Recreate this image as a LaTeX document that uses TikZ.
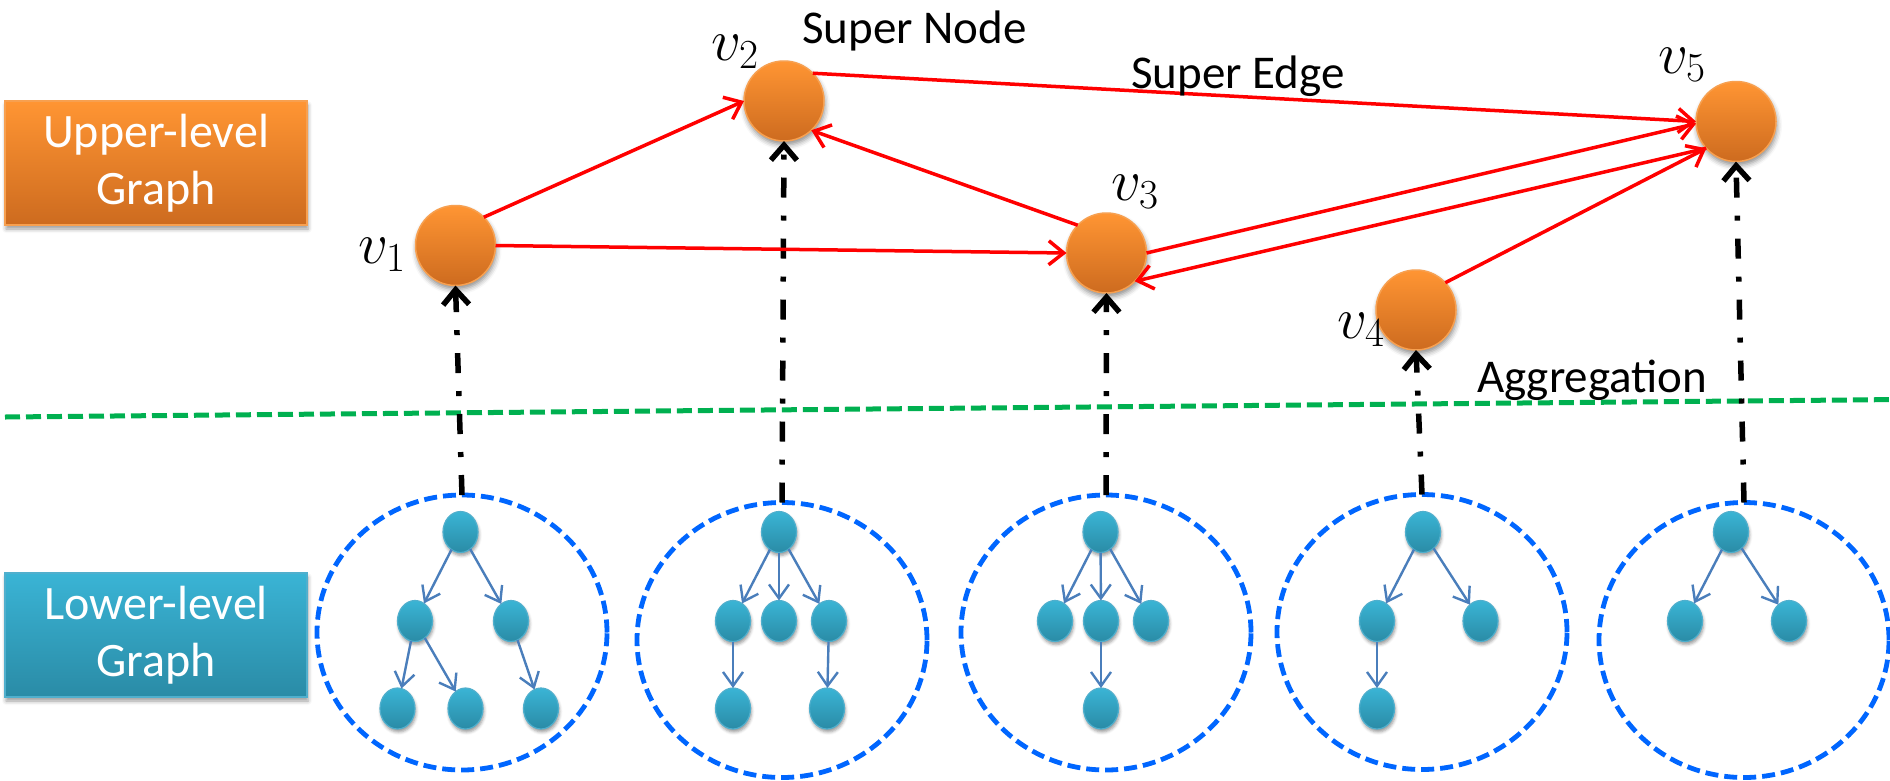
\RequirePackage{fix-cm}
\documentclass[tikz,border=0pt]{standalone}
\usepackage[no-math]{fontspec}
\setmainfont{Carlito}
\usetikzlibrary{arrows.meta,shapes.geometric,shadows.blur}
\definecolor{orangeTop}{RGB}{255,149,51}
\definecolor{orangeBot}{RGB}{205,107,31}
\definecolor{orangeBorder}{RGB}{247,160,80}
\definecolor{tealTop}{RGB}{58,180,213}
\definecolor{tealBot}{RGB}{42,139,166}
\definecolor{tealBorder}{RGB}{80,175,205}
\definecolor{edgeBlue}{RGB}{74,126,187}
\definecolor{groupBlue}{RGB}{0,102,255}
\definecolor{aggGreen}{RGB}{0,176,80}
\begin{document}
\begin{tikzpicture}[x=1pt,y=-1pt,
  levelbox/.style={rectangle, minimum width=302pt, minimum height=124pt, inner sep=0pt, outer sep=0pt,
    text=white, align=center, font=\fontsize{48}{57}\selectfont, line width=1.5pt,
    blur shadow={shadow xshift=1pt, shadow yshift=-4pt, shadow blur radius=4pt, shadow opacity=40}},
  upbox/.style={levelbox, draw=orangeBorder, top color=orangeTop, bottom color=orangeBot},
  lowbox/.style={levelbox, draw=tealBorder, top color=tealTop, bottom color=tealBot},
  supernode/.style={circle, minimum size=80pt, inner sep=0pt, outer sep=0pt, draw=orangeBorder, line width=1.5pt,
    top color=orangeTop, bottom color=orangeBot,
    blur shadow={shadow xshift=1pt, shadow yshift=-4pt, shadow blur radius=5pt, shadow opacity=45}},
  subnode/.style={ellipse, minimum width=35pt, minimum height=41pt, inner sep=0pt, outer sep=0pt, draw=tealBorder, line width=1.2pt,
    top color=tealTop, bottom color=tealBot,
    blur shadow={shadow xshift=1pt, shadow yshift=-3pt, shadow blur radius=3pt, shadow opacity=40}},
  group/.style={ellipse, draw=groupBlue, line width=4.8pt, dash pattern=on 13pt off 6pt,
    minimum width=290pt, minimum height=275pt, inner sep=0pt, outer sep=0pt},
  superedge/.style={draw=red, line width=3.5pt, -{Straight Barb[length=15pt,width=24pt]}},
  subedge/.style={draw=edgeBlue, line width=2.4pt, -{Straight Barb[length=14pt,width=20pt]}},
  aggedge/.style={draw=black, line width=5.5pt, dash pattern=on 20pt off 18pt on 5pt off 18pt,
    -{Straight Barb[length=15pt,width=26pt]}},
  greenline/.style={draw=aggGreen, line width=5pt, dash pattern=on 15pt off 6pt},
  lbl/.style={font=\fontsize{47}{56}\selectfont, inner sep=0pt, anchor=base west},
  mathlbl/.style={font=\fontsize{59}{64}\selectfont, inner sep=0pt, anchor=base west}
]
\useasboundingbox (0,0) rectangle (1890,780);

% level boxes
\node[upbox] (ub) at (156,163) {Upper-level\\Graph};
\node[lowbox] (lb) at (156,635) {Lower-level\\Graph};

% green separator
\coordinate (gl) at (5,417);
\coordinate (gr) at (1890,399.6);
\draw[greenline] (gl) -- (gr);

% groups
\node[group] (grp1) at (462,632.5) {};
\node[group] (grp2) at (782,640) {};
\node[group] (grp3) at (1106,632.5) {};
\node[group] (grp4) at (1422,632) {};
\node[group] (grp5) at (1744,640) {};

% sub nodes group 1
\node[subnode] (s1t) at (460.5,532) {};
\node[subnode] (s1l) at (415,621) {};
\node[subnode] (s1r) at (511,621) {};
\node[subnode] (s1a) at (397.5,708.5) {};
\node[subnode] (s1b) at (465.5,708.5) {};
\node[subnode] (s1c) at (541,708.5) {};
% group 2
\node[subnode] (s2t) at (779,532) {};
\node[subnode] (s2l) at (733,621) {};
\node[subnode] (s2m) at (779,621) {};
\node[subnode] (s2r) at (829,621) {};
\node[subnode] (s2a) at (733,708.5) {};
\node[subnode] (s2b) at (827,708.5) {};
% group 3
\node[subnode] (s3t) at (1100.5,532) {};
\node[subnode] (s3l) at (1055,621) {};
\node[subnode] (s3m) at (1101,621) {};
\node[subnode] (s3r) at (1151,621) {};
\node[subnode] (s3a) at (1101,708.5) {};
% group 4
\node[subnode] (s4t) at (1423,532) {};
\node[subnode] (s4l) at (1377,621) {};
\node[subnode] (s4r) at (1480.5,621) {};
\node[subnode] (s4a) at (1377,708.5) {};
% group 5
\node[subnode] (s5t) at (1731,532) {};
\node[subnode] (s5l) at (1685,621) {};
\node[subnode] (s5r) at (1789,621) {};

% sub edges
\draw[subedge] (s1t) -- (s1l);
\draw[subedge] (s1t) -- (s1r);
\draw[subedge] (s1l) -- (s1a);
\draw[subedge] (s1l) -- (s1b);
\draw[subedge] (s1r) -- (s1c);
\draw[subedge] (s2t) -- (s2l);
\draw[subedge] (s2t) -- (s2m);
\draw[subedge] (s2t) -- (s2r);
\draw[subedge] (s2l) -- (s2a);
\draw[subedge] (s2r) -- (s2b);
\draw[subedge] (s3t) -- (s3l);
\draw[subedge] (s3t) -- (s3m);
\draw[subedge] (s3t) -- (s3r);
\draw[subedge] (s3m) -- (s3a);
\draw[subedge] (s4t) -- (s4l);
\draw[subedge] (s4t) -- (s4r);
\draw[subedge] (s4l) -- (s4a);
\draw[subedge] (s5t) -- (s5l);
\draw[subedge] (s5t) -- (s5r);

% super nodes
\node[supernode] (v1) at (455.5,245.5) {};
\node[supernode] (v2) at (784,101) {};
\node[supernode] (v3) at (1106.5,253) {};
\node[supernode] (v4) at (1416,310) {};
\node[supernode] (v5) at (1736,121.5) {};

% aggregation arrows
\draw[aggedge] (grp1.north) -- (v1.south);
\draw[aggedge] (grp2.north) -- (v2.south);
\draw[aggedge] (grp3.north) -- (v3.south);
\draw[aggedge] (grp4.north) -- (v4.south);
\draw[aggedge] (grp5.north) -- (v5.south);

% super edges
\draw[superedge] (v1.45) -- (v2.180);
\draw[superedge] (v1.0) -- (v3.180);
\draw[superedge] (v3.136) -- (v2.313);
\draw[superedge] (v2.44) -- (v5.180);
\draw[superedge] (v3.0) -- (v5.183);
\draw[superedge] (v5.222) -- (v3.315);
\draw[superedge] (v4.43) -- (v5.222);

% labels
\node[mathlbl] (l1) at (358,263) {$v_1$};
\node[mathlbl] (l2) at (711,60) {$v_2$};
\node[mathlbl] (l3) at (1111,200) {$v_3$};
\node[mathlbl] (l4) at (1337,338) {$v_4$};
\node[mathlbl] (l5) at (1658,73) {$v_5$};
\node[lbl] (tn) at (802,43) {Super Node};
\node[lbl] (te) at (1131,88) {Super Edge};
\node[lbl] (ta) at (1477,392) {Aggregation};
\end{tikzpicture}
\end{document}
